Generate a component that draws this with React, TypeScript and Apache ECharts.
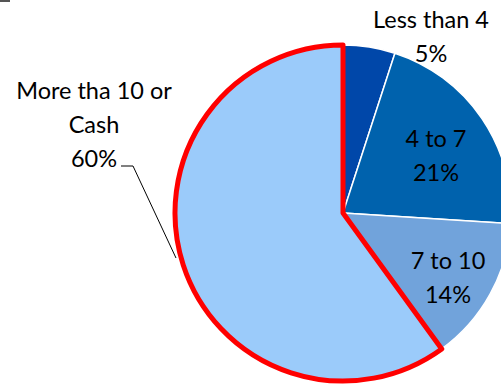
import React, { useEffect, useRef } from "react";
import * as echarts from "echarts";

const categories = ["Less than 4", "4 to 7", "7 to 10", "More tha 10 or\nCash"];
const values = [5, 21, 14, 60];
const colors = ["#0047A9", "#0062AD", "#71A3DB", "#9BCBFA"];
const labelPos: [number, number][] = [
  [431, 36],
  [436, 155],
  [448, 277],
  [94, 124],
];

export default function App() {
  const ref = useRef<HTMLDivElement>(null);
  useEffect(() => {
    document.body.style.margin = "0";
    const chart = echarts.init(ref.current!, null, { renderer: "svg" });
    chart.setOption({
      animation: false,
      backgroundColor: "#ffffff",
      graphic: [
        {
          type: "polyline",
          shape: { points: [[121, 166], [133, 166], [176, 258]] },
          style: { stroke: "#000", lineWidth: 1, fill: "none" },
          z: 10,
        },
        {
          type: "rect",
          shape: { x: 0, y: 0, width: 10, height: 2 },
          style: { fill: "#555" },
        },
      ],
      series: [
        {
          type: "pie",
          center: [343, 213],
          radius: 168,
          startAngle: 90,
          clockwise: true,
          data: categories.map((c, i) => ({
            name: c,
            value: values[i],
            itemStyle:
              i === 3
                ? { color: colors[i], borderColor: "#FF0000", borderWidth: 5 }
                : { color: colors[i], borderColor: "#ffffff", borderWidth: 1.5 },
          })),
          label: {
            show: true,
            position: "inside",
            formatter: "{b}\n{d}%",
            fontFamily: "Lato",
            fontSize: 23.5,
            lineHeight: 34,
            color: "#000",
            align: "center",
          },
          labelLine: { show: false },
          labelLayout: (p: any) => ({
            x: labelPos[p.dataIndex][0],
            y: labelPos[p.dataIndex][1],
            align: "center",
            verticalAlign: "middle",
          }),
          emphasis: { disabled: true },
        },
      ],
    });
    return () => chart.dispose();
  }, []);
  return <div ref={ref} style={{ width: 501, height: 384 }} />;
}
